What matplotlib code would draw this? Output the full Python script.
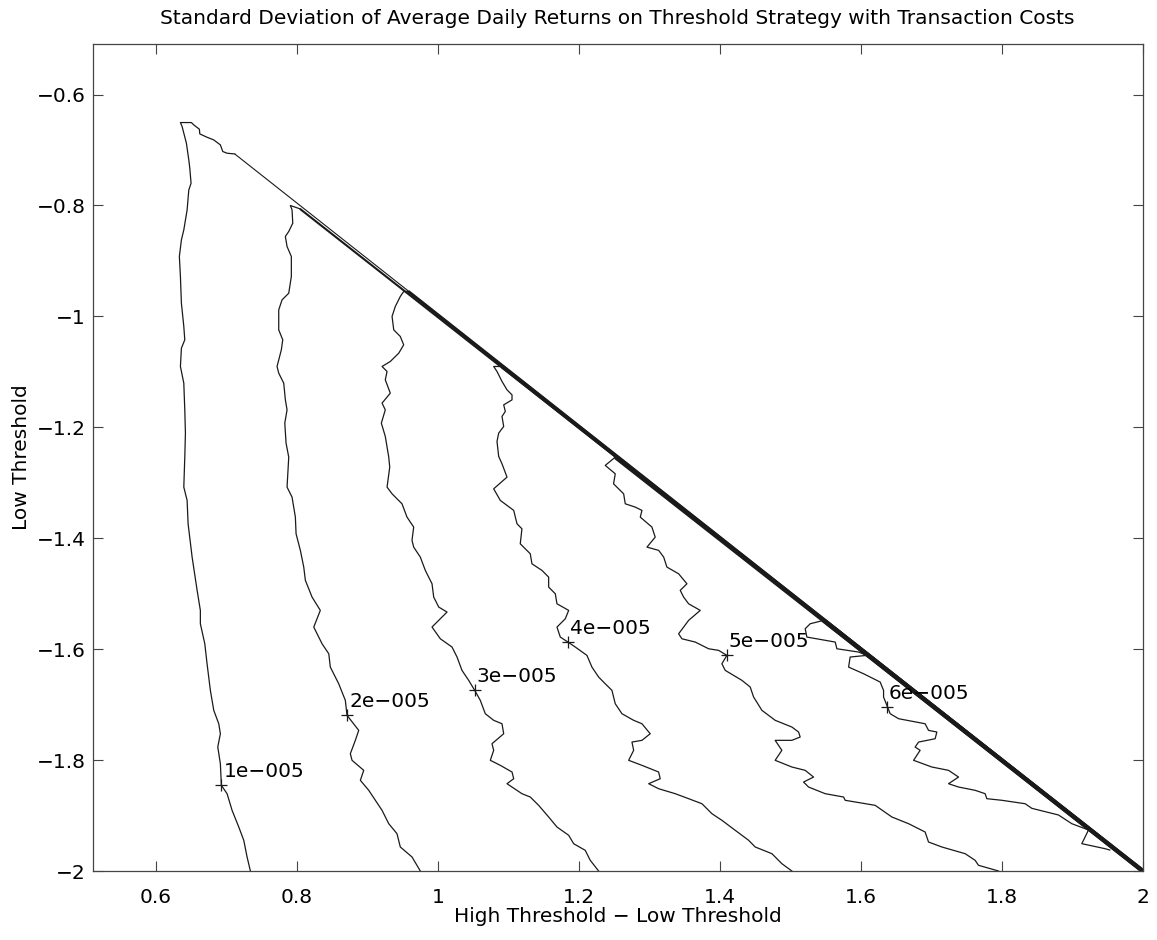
import matplotlib
matplotlib.use("Agg")
import matplotlib.pyplot as plt
import numpy as np

plt.rcParams["font.family"] = ["DejaVu Sans"]

# contour paths: start where each level leaves the
# boundary ridge, then run down to the bottom edge
c1 = np.array([
    (0.7116, -0.7071), (0.7007, -0.7058), (0.6946, -0.7027), (0.6912, -0.6908),
    (0.6818, -0.6818), (0.6723, -0.6770), (0.6620, -0.6710), (0.6614, -0.6625),
    (0.6535, -0.6548), (0.6501, -0.6505), (0.6345, -0.6505), (0.6369, -0.6577),
    (0.6430, -0.6878), (0.6464, -0.7179), (0.6478, -0.7328), (0.6496, -0.7599),
    (0.6464, -0.7720), (0.6440, -0.8080), (0.6393, -0.8441), (0.6359, -0.8621),
    (0.6330, -0.8920), (0.6345, -0.9280), (0.6359, -0.9762), (0.6393, -1.0182),
    (0.6407, -1.0423), (0.6359, -1.0573), (0.6345, -1.0903), (0.6393, -1.1204),
    (0.6407, -1.1685), (0.6416, -1.2105), (0.6407, -1.2538), (0.6393, -1.3078),
    (0.6440, -1.3318), (0.6454, -1.3740), (0.6511, -1.4340), (0.6582, -1.4940),
    (0.6628, -1.5301), (0.6628, -1.5542), (0.6691, -1.5903), (0.6723, -1.6263),
    (0.6770, -1.6743), (0.6818, -1.7103), (0.6889, -1.7345), (0.6912, -1.7525),
    (0.6875, -1.7765), (0.6912, -1.8066), (0.6926, -1.8455), (0.7007, -1.8606),
    (0.7078, -1.8906), (0.7173, -1.9207), (0.7244, -1.9447), (0.7291, -1.9748),
    (0.7338, -2.0),
])
c2 = np.array([
    (0.8040, -0.8060), (0.7905, -0.8001), (0.7929, -0.8080), (0.7939, -0.8320),
    (0.7882, -0.8469), (0.7834, -0.8559), (0.7858, -0.8740), (0.7919, -0.8920),
    (0.7919, -0.9280), (0.7882, -0.9582), (0.7787, -0.9702), (0.7740, -0.9882),
    (0.7740, -1.0243), (0.7797, -1.0423), (0.7777, -1.0603), (0.7716, -1.0903),
    (0.7740, -1.1023), (0.7811, -1.1204), (0.7834, -1.1505), (0.7858, -1.1685),
    (0.7826, -1.1925), (0.7844, -1.2285), (0.7882, -1.2538), (0.7858, -1.3078),
    (0.7929, -1.3259), (0.7976, -1.3619), (0.7986, -1.3920), (0.8047, -1.4219),
    (0.8095, -1.4520), (0.8118, -1.4760), (0.8213, -1.5061), (0.8330, -1.5301),
    (0.8237, -1.5602), (0.8355, -1.5903), (0.8450, -1.6083), (0.8472, -1.6323),
    (0.8591, -1.6624), (0.8685, -1.6923), (0.8709, -1.7193), (0.8875, -1.7464),
    (0.8827, -1.7644), (0.8756, -1.7885), (0.8780, -1.8004), (0.8946, -1.8185),
    (0.8898, -1.8365), (0.9017, -1.8545), (0.9111, -1.8725), (0.9206, -1.8906),
    (0.9301, -1.9147), (0.9418, -1.9327), (0.9465, -1.9567), (0.9631, -1.9747),
    (0.9749, -2.0),
])
c3 = np.array([
    (0.9580, -0.9550), (0.9513, -0.9551), (0.9465, -0.9641), (0.9394, -0.9821),
    (0.9348, -1.0001), (0.9372, -1.0243), (0.9465, -1.0362), (0.9513, -1.0513),
    (0.9443, -1.0663), (0.9323, -1.0813), (0.9206, -1.0903), (0.9277, -1.0993),
    (0.9252, -1.1144), (0.9323, -1.1384), (0.9206, -1.1564), (0.9252, -1.1685),
    (0.9196, -1.1925), (0.9252, -1.2164), (0.9301, -1.2538), (0.9315, -1.2718),
    (0.9277, -1.3078), (0.9348, -1.3199), (0.9489, -1.3379), (0.9560, -1.3619),
    (0.9655, -1.3799), (0.9631, -1.4039), (0.9655, -1.4160), (0.9749, -1.4340),
    (0.9820, -1.4580), (0.9915, -1.4821), (0.9939, -1.5061), (1.0010, -1.5241),
    (1.0128, -1.5331), (1.0057, -1.5421), (0.9915, -1.5601), (1.0033, -1.5813),
    (1.0199, -1.5962), (1.0270, -1.6142), (1.0340, -1.6382), (1.0435, -1.6562),
    (1.0521, -1.6743), (1.0600, -1.6923), (1.0671, -1.7164), (1.0790, -1.7283),
    (1.0908, -1.7345), (1.0932, -1.7525), (1.0766, -1.7705), (1.0790, -1.7824),
    (1.0742, -1.8004), (1.0884, -1.8095), (1.1050, -1.8215), (1.1074, -1.8336),
    (1.0979, -1.8426), (1.1191, -1.8606), (1.1309, -1.8666), (1.1428, -1.8816),
    (1.1570, -1.9026), (1.1688, -1.9207), (1.1854, -1.9356), (1.1925, -1.9508),
    (1.2089, -1.9627), (1.2160, -1.9807), (1.2279, -2.0),
])
c4 = np.array([
    (1.0908, -1.0903), (1.0790, -1.0903), (1.0837, -1.0993), (1.0908, -1.1173),
    (1.0979, -1.1324), (1.1050, -1.1415), (1.1050, -1.1505), (1.0932, -1.1595),
    (1.0955, -1.1714), (1.0908, -1.1804), (1.0932, -1.1984), (1.0861, -1.2105),
    (1.0837, -1.2255), (1.0861, -1.2525), (1.0908, -1.2658), (1.0979, -1.2898),
    (1.0790, -1.3109), (1.0884, -1.3318), (1.1074, -1.3498), (1.1121, -1.3740),
    (1.1191, -1.3830), (1.1167, -1.4100), (1.1309, -1.4280), (1.1333, -1.4461),
    (1.1475, -1.4580), (1.1570, -1.4701), (1.1570, -1.4881), (1.1664, -1.5001),
    (1.1688, -1.5182), (1.1854, -1.5301), (1.1806, -1.5452), (1.1688, -1.5602),
    (1.1735, -1.5782), (1.1844, -1.5872), (1.1948, -1.5962), (1.2113, -1.6112),
    (1.2184, -1.6323), (1.2279, -1.6503), (1.2373, -1.6624), (1.2468, -1.6743),
    (1.2515, -1.6984), (1.2610, -1.7164), (1.2776, -1.7283), (1.2894, -1.7345),
    (1.3011, -1.7525), (1.2894, -1.7644), (1.2752, -1.7675), (1.2776, -1.7824),
    (1.2705, -1.8004), (1.2894, -1.8095), (1.3130, -1.8215), (1.3153, -1.8336),
    (1.2989, -1.8426), (1.3130, -1.8516), (1.3366, -1.8606), (1.3556, -1.8696),
    (1.3745, -1.8787), (1.3887, -1.8967), (1.4028, -1.9086), (1.4217, -1.9266),
    (1.4407, -1.9446), (1.4501, -1.9567), (1.4738, -1.9688), (1.4879, -1.9868),
    (1.5021, -2.0),
])
c5 = np.array([
    (1.2515, -1.2538), (1.2373, -1.2687), (1.2515, -1.2838), (1.2491, -1.3019),
    (1.2634, -1.3199), (1.2657, -1.3379), (1.2799, -1.3439), (1.2894, -1.3498),
    (1.2870, -1.3619), (1.3035, -1.3799), (1.3082, -1.3980), (1.2965, -1.4160),
    (1.3131, -1.4219), (1.3202, -1.4340), (1.3248, -1.4520), (1.3414, -1.4641),
    (1.3532, -1.4821), (1.3437, -1.4940), (1.3485, -1.5061), (1.3556, -1.5182),
    (1.3721, -1.5301), (1.3556, -1.5481), (1.3414, -1.5723), (1.3461, -1.5813),
    (1.3650, -1.5872), (1.3840, -1.5993), (1.3982, -1.6022), (1.4099, -1.6112),
    (1.4028, -1.6263), (1.4075, -1.6382), (1.4312, -1.6562), (1.4430, -1.6683),
    (1.4478, -1.6863), (1.4596, -1.7103), (1.4784, -1.7283), (1.5021, -1.7404),
    (1.5116, -1.7494), (1.5139, -1.7584), (1.5021, -1.7644), (1.4784, -1.7644),
    (1.4879, -1.7824), (1.4784, -1.8004), (1.5021, -1.8125), (1.5210, -1.8185),
    (1.5329, -1.8306), (1.5187, -1.8396), (1.5258, -1.8486), (1.5494, -1.8606),
    (1.5755, -1.8666), (1.5777, -1.8725), (1.6203, -1.8816), (1.6440, -1.9026),
    (1.6677, -1.9147), (1.6912, -1.9297), (1.6960, -1.9477), (1.7149, -1.9567),
    (1.7480, -1.9688), (1.7621, -1.9807), (1.7669, -1.9897), (1.7953, -2.0),
])
c6 = np.array([
    (1.5471, -1.5481), (1.5281, -1.5542), (1.5210, -1.5632), (1.5234, -1.5782),
    (1.5636, -1.5872), (1.5660, -1.5993), (1.5967, -1.6052), (1.6085, -1.6112),
    (1.5848, -1.6142), (1.5826, -1.6323), (1.6038, -1.6443), (1.6274, -1.6593),
    (1.6322, -1.6743), (1.6322, -1.6863), (1.6369, -1.7013), (1.6416, -1.7164),
    (1.6535, -1.7254), (1.6912, -1.7345), (1.6960, -1.7464), (1.7078, -1.7494),
    (1.7054, -1.7615), (1.6819, -1.7675), (1.6770, -1.7765), (1.6841, -1.7824),
    (1.6748, -1.8004), (1.7007, -1.8125), (1.7244, -1.8185), (1.7386, -1.8306),
    (1.7244, -1.8426), (1.7386, -1.8486), (1.7621, -1.8545), (1.7763, -1.8606),
    (1.7787, -1.8696), (1.8000, -1.8725), (1.8331, -1.8787), (1.8426, -1.8870),
    (1.8804, -1.8990), (1.8993, -1.9147), (1.9182, -1.9237), (1.9230, -1.9261),
    (1.9135, -1.9507), (1.9466, -1.9598), (1.9532, -1.9622),
])

contours = [c1, c2, c3, c4, c5, c6]
level_labels = ["1e\u2212005", "2e\u2212005", "3e\u2212005",
                "4e\u2212005", "5e\u2212005", "6e\u2212005"]
label_x = [0.6926, 0.8709, 1.0521, 1.1844, 1.4099, 1.6370]
label_y = [-1.8455, -1.7193, -1.6743, -1.5872, -1.6112, -1.7050]
corner = (2.0, -2.0)

x_ticks = [0.6, 0.8, 1.0, 1.2, 1.4, 1.6, 1.8, 2.0]
x_tick_labels = ["0.6", "0.8", "1", "1.2", "1.4", "1.6", "1.8", "2"]
y_ticks = [-2.0, -1.8, -1.6, -1.4, -1.2, -1.0, -0.8, -0.6]
y_tick_labels = ["\u22122", "\u22121.8", "\u22121.6", "\u22121.4",
                 "\u22121.2", "\u22121", "\u22120.8", "\u22120.6"]

fs = 14.5
line_col = "#1a1a1a"

fig = plt.figure(figsize=(11.57, 9.40), dpi=100)
ax = fig.add_axes([0.0801, 0.0734, 0.9076, 0.8803])

# ridge along the boundary: levels pile up there, so it gets heavier
ridge_widths = [0.8, 1.5, 2.1, 2.6, 2.9, 3.2]
for path, lw in zip(contours, ridge_widths):
    ax.plot([path[0, 0], corner[0]], [path[0, 1], corner[1]],
            color=line_col, lw=lw, solid_capstyle="butt")

for path in contours:
    ax.plot(path[:, 0], path[:, 1], color=line_col, lw=0.9)

for lx, ly, txt in zip(label_x, label_y, level_labels):
    ax.plot(lx, ly, marker="+", ms=9, mew=0.9, color=line_col)
    ax.annotate(txt, (lx, ly), xytext=(1.5, 3), textcoords="offset points",
                ha="left", va="bottom", fontsize=fs)

ax.set_xlim(0.51, 2.0)
ax.set_ylim(-2.0, -0.508)
ax.set_xticks(x_ticks)
ax.set_xticklabels(x_tick_labels)
ax.set_yticks(y_ticks)
ax.set_yticklabels(y_tick_labels)
ax.tick_params(direction="in", length=7, width=0.8, top=True, right=True,
               labelsize=fs, color="#444444")
ax.tick_params(axis="x", pad=12)
ax.tick_params(axis="y", pad=5)
for sp in ax.spines.values():
    sp.set_linewidth(0.9)
    sp.set_color("#444444")

ax.set_title("Standard Deviation of Average Daily Returns on Threshold "
             "Strategy with Transaction Costs", fontsize=fs, pad=14)
ax.set_xlabel("High Threshold \u2212 Low Threshold", fontsize=fs, labelpad=0)
ax.set_ylabel("Low Threshold", fontsize=fs, labelpad=4)

fig.savefig("out.png", dpi=100)
